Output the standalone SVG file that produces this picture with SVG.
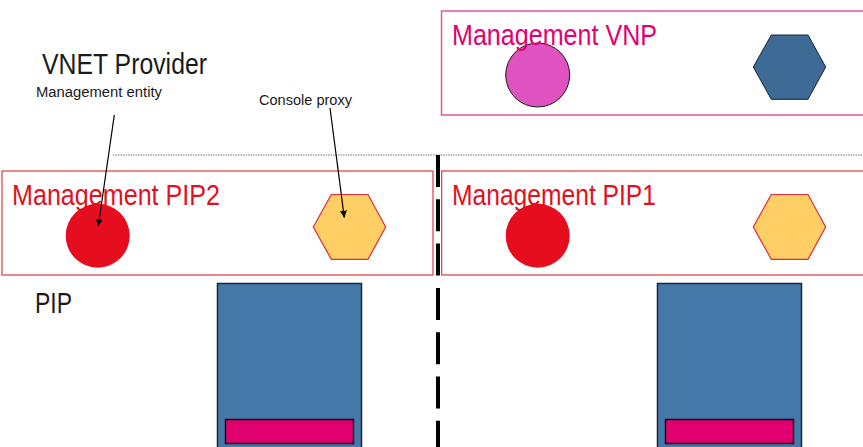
<svg xmlns="http://www.w3.org/2000/svg" width="863" height="447" viewBox="0 0 863 447">
  <style>
    text { font-family: "Liberation Sans", Arial, sans-serif; }
    .title { font-size: 29px; fill: #1a1a1a; }
    .note { font-size: 14px; fill: #1a1a1a; }
    .zone-red { font-size: 29px; fill: #e3101e; }
    .zone-mag { font-size: 29px; fill: #e20074; }
    .box-red { fill: #ffffff; stroke: #e0393e; stroke-width: 1.2; }
    .box-mag { fill: #ffffff; stroke: #e3559e; stroke-width: 1.5; }
    .entity { fill: #e50d1e; }
    .proxy { fill: #ffcf66; stroke: #e3293a; stroke-width: 1.2; }
    .host { fill: #4479aa; stroke: #16273a; stroke-width: 1.5; }
    .nic { fill: #e0006e; stroke: #1a0a14; stroke-width: 1.5; }
    .pointer { stroke: #000000; stroke-width: 1.2; fill: none; marker-end: url(#tip); }
  </style>
  <defs>
    <marker id="tip" viewBox="0 0 10 10" refX="10" refY="5" markerWidth="7" markerHeight="7" markerUnits="userSpaceOnUse" orient="auto">
      <path d="M0,0 L10,5 L0,10 z" fill="#000000"/>
    </marker>
  </defs>

  <rect width="863" height="447" fill="#ffffff"/>

  <!-- separators -->
  <g id="separators">
    <line x1="113" y1="155" x2="863" y2="155" stroke="#777777" stroke-width="1" stroke-dasharray="1.5,1"/>
    <line x1="438" y1="155" x2="438" y2="447" stroke="#000000" stroke-width="4" stroke-dasharray="32,12.3"/>
  </g>

  <!-- captions -->
  <g id="captions">
    <text class="title" x="42" y="74" textLength="165" lengthAdjust="spacingAndGlyphs">VNET Provider</text>
    <text class="note" x="36" y="97" textLength="126" lengthAdjust="spacingAndGlyphs">Management entity</text>
    <text class="note" x="259" y="105" textLength="93" lengthAdjust="spacingAndGlyphs">Console proxy</text>
    <text class="title" x="35" y="313" font-size="27" textLength="37" lengthAdjust="spacingAndGlyphs">PIP</text>
  </g>

  <!-- Management VNP zone -->
  <g id="management-vnp">
    <rect class="box-mag" x="441.5" y="11" width="430" height="104"/>
    <circle cx="537.7" cy="75" r="32" fill="#e052c0" stroke="#1a1a1a" stroke-width="1"/>
    <polygon points="753.3,67 771.3,35 808,35 825.7,67 808,99.3 771.3,99.3" fill="#3d6b96" stroke="#1a2230" stroke-width="1"/>
    <text class="zone-mag" x="452" y="45" textLength="205" lengthAdjust="spacingAndGlyphs">Management VNP</text>
  </g>

  <!-- Management PIP2 zone -->
  <g id="management-pip2">
    <rect class="box-red" x="2" y="171" width="431" height="104"/>
    <circle class="entity" cx="97.7" cy="235.7" r="32"/>
    <polygon class="proxy" points="313.3,227 331.3,194.5 368,194.5 385.7,227 368,259.3 331.3,259.3"/>
    <text class="zone-red" x="12" y="204.5" textLength="208" lengthAdjust="spacingAndGlyphs">Management PIP2</text>
  </g>

  <!-- Management PIP1 zone -->
  <g id="management-pip1">
    <rect class="box-red" x="441.7" y="171" width="430" height="104"/>
    <circle class="entity" cx="537.7" cy="235.7" r="32"/>
    <polygon class="proxy" points="753.3,227 771.3,194.5 808,194.5 825.7,227 808,259.3 771.3,259.3"/>
    <text class="zone-red" x="452" y="204.5" textLength="204" lengthAdjust="spacingAndGlyphs">Management PIP1</text>
  </g>

  <!-- PIP hosts -->
  <g id="host-left">
    <rect class="host" x="217.5" y="283.5" width="144" height="170"/>
    <rect class="nic" x="225.5" y="419.5" width="128" height="24"/>
  </g>
  <g id="host-right">
    <rect class="host" x="657.5" y="283.5" width="144" height="170"/>
    <rect class="nic" x="665.5" y="419.5" width="128" height="24"/>
  </g>

  <!-- connectors -->
  <g id="connectors">
    <line class="pointer" x1="114.3" y1="115" x2="98.3" y2="226"/>
    <line class="pointer" x1="330" y1="108" x2="344.3" y2="217.7"/>
  </g>
</svg>
